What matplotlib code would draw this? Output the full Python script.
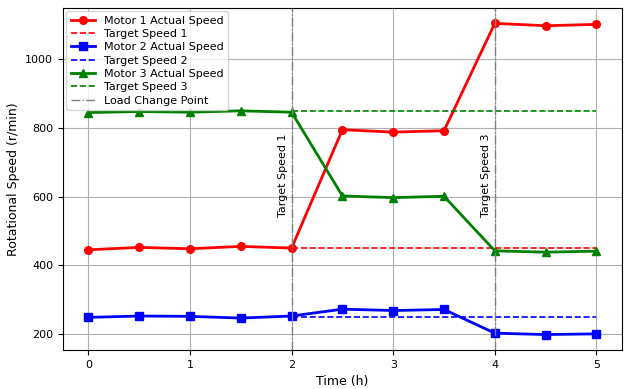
import numpy as np
import matplotlib
matplotlib.use('Agg')
import matplotlib.pyplot as plt

# --- Dados ---
time_h = [0, 0.5, 1, 1.5, 2, 2.5, 3, 3.5, 4, 4.5, 5]
motor1 = [445, 452, 448, 455, 450, 795, 788, 792, 1105, 1098, 1102]
motor2 = [248, 252, 251, 246, 252, 272, 268, 271, 202, 198, 200]
motor3 = [845, 848, 846, 850, 846, 602, 597, 601, 442, 438, 441]
target1 = 450
target2 = 250
target3 = 850
target_start = 2  # alvo desenhado a partir do primeiro ponto de mudança
load_changes = [2, 4]
load_labels = ['Target Speed 1', 'Target Speed 3']

plt.rcParams['font.size'] = 8

fig, ax = plt.subplots(figsize=(6.3, 3.89), dpi=100)

t_target = [t for t in time_h if t >= target_start]

ax.plot(time_h, motor1, color='red', marker='o', markersize=5.5, linewidth=2, label='Motor 1 Actual Speed')
ax.plot(t_target, [target1] * len(t_target), color='red', linestyle='--', linewidth=1.2, label='Target Speed 1')
ax.plot(time_h, motor2, color='blue', marker='s', markersize=5.5, linewidth=2, label='Motor 2 Actual Speed')
ax.plot(t_target, [target2] * len(t_target), color='blue', linestyle='--', linewidth=1.2, label='Target Speed 2')
ax.plot(time_h, motor3, color='green', marker='^', markersize=5.5, linewidth=2, label='Motor 3 Actual Speed')
ax.plot(t_target, [target3] * len(t_target), color='green', linestyle='--', linewidth=1.2, label='Target Speed 3')

for i, (xc, lab) in enumerate(zip(load_changes, load_labels)):
    ax.axvline(xc, color='gray', linestyle='-.', linewidth=1,
               label='Load Change Point' if i == 0 else None)
    ax.text(xc - 0.04, 540, lab, rotation=90, ha='right', va='bottom', fontsize=8)

ax.set_xlabel('Time (h)', fontsize=9)
ax.set_ylabel('Rotational Speed (r/min)', fontsize=9)
ax.grid(True)
ax.legend(loc='upper left', fontsize=8, handlelength=2.2, borderpad=0.4, labelspacing=0.3,
          borderaxespad=0.3)

plt.subplots_adjust(left=0.1, right=0.987, top=0.98, bottom=0.1)
plt.savefig('out.png', dpi=100)
